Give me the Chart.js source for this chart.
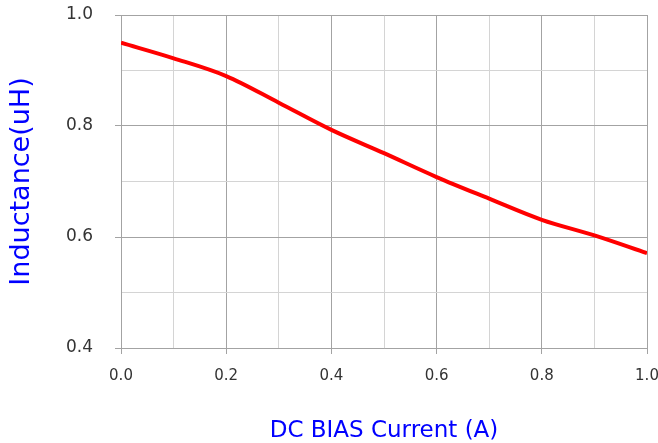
<!DOCTYPE html>
<html>
<head>
<meta charset="utf-8">
<script src="https://cdn.jsdelivr.net/npm/chart.js@4/dist/chart.umd.min.js"></script>
<style>
    html, body { margin: 0; padding: 0; background: #fff; }
    #wrap { width: 658px; height: 443px; }
</style>
</head>
<body>
<div id="wrap"><canvas id="chartCanvas" width="658" height="443"></canvas></div>
<script>
// DC bias current (A) and inductance (uH)
const currentA = [0.0, 0.1, 0.2, 0.3, 0.4, 0.5, 0.6, 0.7, 0.8, 0.9, 1.0];
const inductanceUH = [0.95, 0.922, 0.89, 0.842, 0.793, 0.751, 0.708, 0.669, 0.631, 0.603, 0.571];

const xTitle = 'DC BIAS Current (A)';
const yTitle = 'Inductance(uH)';

const majorGrid = '#a3a3a3';
const minorGrid = '#d4d4d4';

function isMajor(v) {
    return Math.round(v * 10) % 2 === 0;
}

const points = currentA.map((x, i) => ({ x: x, y: inductanceUH[i] }));

const context = document.getElementById('chartCanvas').getContext('2d');

new Chart(context, {
    type: 'line',
    data: {
        datasets: [{
            data: points,
            borderColor: '#ff0000',
            borderWidth: 4,
            pointRadius: 0,
            fill: false,
            cubicInterpolationMode: 'monotone'
        }]
    },
    options: {
        responsive: false,
        animation: false,
        layout: { padding: { top: 15, right: 11, bottom: 0, left: 0 } },
        plugins: {
            legend: { display: false },
            tooltip: { enabled: false }
        },
        scales: {
            x: {
                type: 'linear',
                min: 0,
                max: 1,
                afterFit: scale => {
                    scale.height = 95;
                    scale.paddingLeft = 0;
                    scale.paddingRight = 0;
                },
                border: { display: true, color: majorGrid },
                grid: {
                    color: ctx => isMajor(ctx.tick.value) ? majorGrid : minorGrid,
                    tickColor: ctx => isMajor(ctx.tick.value) ? majorGrid : 'rgba(0,0,0,0)',
                    tickLength: 6
                },
                ticks: {
                    stepSize: 0.1,
                    maxRotation: 0,
                    autoSkip: false,
                    padding: 13,
                    color: '#333',
                    font: { family: 'DejaVu Sans', size: 15 },
                    callback: v => isMajor(v) ? v.toFixed(1) : ''
                },
                title: {
                    display: true,
                    text: xTitle,
                    color: '#0000ff',
                    font: { family: 'DejaVu Sans', size: 23, lineHeight: 1 },
                    padding: { top: 0, bottom: 0 }
                }
            },
            y: {
                type: 'linear',
                min: 0.4,
                max: 1.0,
                afterFit: scale => {
                    scale.width = 121;
                    scale.paddingTop = 0;
                    scale.paddingBottom = 0;
                },
                border: { display: true, color: majorGrid },
                grid: {
                    color: ctx => isMajor(ctx.tick.value) ? majorGrid : minorGrid,
                    tickColor: ctx => isMajor(ctx.tick.value) ? majorGrid : 'rgba(0,0,0,0)',
                    tickLength: 6
                },
                ticks: {
                    stepSize: 0.1,
                    autoSkip: false,
                    padding: 22,
                    color: '#333',
                    font: { family: 'DejaVu Sans', size: 17 },
                    callback: v => isMajor(v) ? v.toFixed(1) : ''
                },
                title: {
                    display: true,
                    text: yTitle,
                    color: '#0000ff',
                    font: { family: 'DejaVu Sans', size: 27 },
                    padding: { top: 6, bottom: 0 }
                }
            }
        }
    }
});
</script>
</body>
</html>
